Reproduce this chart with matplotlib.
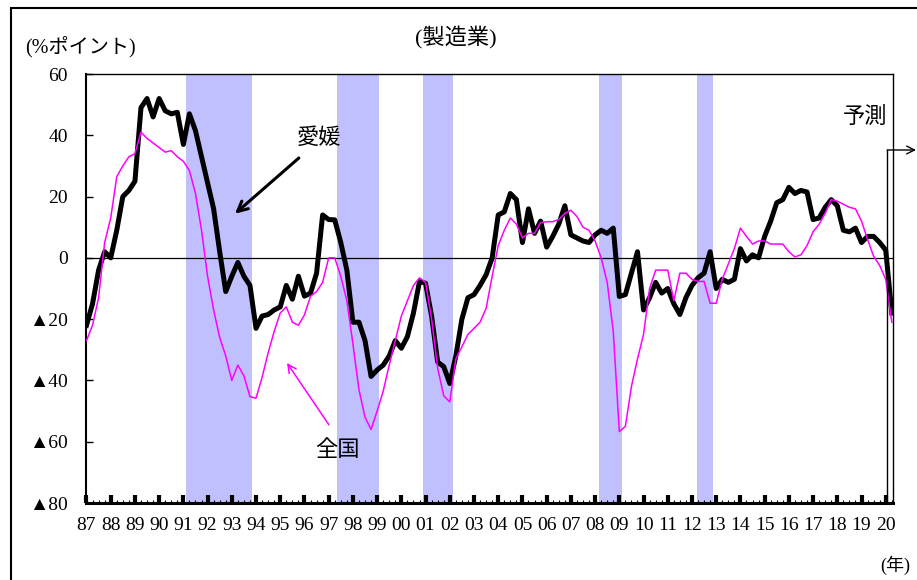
import matplotlib
matplotlib.use("Agg")
import matplotlib.pyplot as plt
from matplotlib.patches import Rectangle
from matplotlib.ticker import MultipleLocator

plt.rcParams['font.family'] = ['Liberation Serif', 'Noto Sans CJK JP', 'DejaVu Sans']

# quarterly DI, 1987Q1 .. 2020Q2 (last quarters are the forecast)
ehime = [
    -22, -15, -4, 2,        # 87
    0, 9, 20, 22,           # 88
    25, 49, 52, 46,         # 89
    52, 48, 47, 47.5,       # 90
    37, 47, 41.5, 33,       # 91
    24.5, 16, 2, -11,       # 92
    -6, -1.5, -6, -9,       # 93
    -23, -19, -18.5, -17,   # 94
    -16, -9, -13.5, -6,     # 95
    -12.5, -11.5, -5, 14,   # 96
    12.5, 12.4, 5, -4,      # 97
    -21, -21, -27, -38.7,   # 98
    -36.6, -35, -32, -27,   # 99
    -29.5, -25.7, -18, -7.7,  # 00
    -8.3, -19, -34, -35.5,  # 01
    -41, -32, -20, -13,     # 02
    -12, -9, -5.5, 0,       # 03
    14, 15, 21, 19,         # 04
    5, 16, 8, 12,           # 05
    3.5, 7, 11, 17,         # 06
    7.5, 6.5, 5.5, 5,       # 07
    7.5, 9, 8, 9.7,         # 08
    -12.6, -12, -5, 2,      # 09
    -17, -13, -8, -11.5,    # 10
    -10, -15, -18.5, -13,   # 11
    -9, -6.5, -5, 2,        # 12
    -10, -7, -8, -7,        # 13
    3, -1, 1, 0,            # 14
    7, 12, 18, 19,          # 15
    23, 21, 22, 21.5,       # 16
    12.5, 13, 16.5, 19,     # 17
    17, 9, 8.5, 9.7,        # 18
    5, 7, 7, 5,             # 19
    2.5, -18,               # 20
]
zenkoku = [
    -27, -22, -13, 5,
    13, 26.5, 30, 33,
    34, 41, 39, 37.5,
    36, 34.5, 35, 33,
    31.5, 28.5, 21, 9,
    -6, -17, -26, -32,
    -40, -35, -38.5, -45.3,
    -45.8, -39, -31, -24,
    -18, -16, -21, -22,
    -18.6, -12.5, -11, -8,
    0, 0, -6, -14,
    -28, -43, -52, -56,
    -50, -43.5, -35, -27,
    -19, -14, -9, -6.5,
    -8, -20, -36, -45,
    -47, -33, -29, -25,
    -23, -21, -16.5, -6,
    4, 9, 13, 11,
    6.5, 8, 8, 11.5,
    11.8, 11.8, 12.5, 14.5,
    15.5, 13.5, 10, 9,
    5.5, 0, -8, -24,
    -56.7, -55, -42, -33,
    -25, -10, -4, -4,
    -4, -14, -5, -5,
    -7, -7.7, -7.7, -14.8,
    -14.8, -7, -2, 3,
    9.7, 7, 4.5, 5.5,
    5.5, 4.5, 4.5, 4.5,
    2, 0.3, 1, 4,
    8.5, 11, 14.5, 19,
    18.5, 17.5, 16.5, 16,
    12, 6, 0.5, -2.5,
    -7, -21,
]
quarters = [1987 + i / 4 for i in range(len(ehime))]

years = list(range(1987, 2021))
year_labels = [f"{y % 100:02d}" for y in years]
y_ticks = [60, 40, 20, 0, -20, -40, -60, -80]
y_labels = ['60', '40', '20', '0', '▲20', '▲40', '▲60', '▲80']

# recession periods (shaded)
bands = [(1991.1, 1993.85), (1997.35, 1999.08), (2000.9, 2002.12),
         (2008.15, 2009.12), (2012.22, 2012.87)]
forecast_start = 2020.06

fig = plt.figure(figsize=(9.17, 5.8), dpi=100)
ax = fig.add_axes([86 / 917, 1 - 503 / 580, (893 - 86) / 917, (503 - 74) / 580])

for b0, b1 in bands:
    ax.axvspan(b0, b1, color='#c0c0ff', lw=0, zorder=0)
ax.axhline(0, color='black', lw=0.9, zorder=1)

ax.plot(quarters, ehime, color='black', lw=3.6, zorder=3)
ax.plot(quarters, zenkoku, color='#ff00ff', lw=1.1, zorder=4)

ax.set_xlim(1986.98, 2020.30)
ax.set_ylim(-80, 60)
ax.set_xticks(years)
ax.set_xticklabels(year_labels)
ax.xaxis.set_minor_locator(MultipleLocator(0.25))
ax.set_yticks(y_ticks)
ax.set_yticklabels(y_labels)

ax.tick_params(axis='x', which='major', direction='in', length=6, width=3,
               pad=10, labelsize=14)
ax.tick_params(axis='x', which='minor', direction='in', length=2.5, width=0.8)
ax.tick_params(axis='y', direction='in', length=5, width=1, pad=13, labelsize=14)

ax.spines['left'].set_linewidth(1.5)
ax.spines['bottom'].set_linewidth(2.2)
ax.spines['top'].set_linewidth(1.0)
ax.spines['right'].set_linewidth(1.0)

# labels
ax.annotate('', xy=(1993.13, 14.4), xytext=(1995.77, 32.6),
            arrowprops=dict(arrowstyle='->', color='black', lw=2.2,
                            mutation_scale=18, shrinkA=0, shrinkB=0))
ax.text(1996.6, 38.8, '愛媛', fontsize=16, ha='center', va='center')
ax.annotate('', xy=(1995.28, -34.3), xytext=(1997.01, -54.5),
            arrowprops=dict(arrowstyle='->', color='#ff00ff', lw=1.1,
                            mutation_scale=15, shrinkA=0, shrinkB=0))
ax.text(1997.38, -63, '全国', fontsize=16, ha='center', va='center')

# forecast marker
ax.plot([forecast_start, forecast_start], [35.2, -80], color='black', lw=1.0,
        zorder=5, clip_on=False)
ax.annotate('', xy=(916, 430), xycoords='figure pixels',
            xytext=(forecast_start, 35.2), textcoords='data',
            arrowprops=dict(arrowstyle='->', color='black', lw=1.0,
                            mutation_scale=14, shrinkA=0, shrinkB=0),
            annotation_clip=False)
ax.text(2019.14, 46, '予測', fontsize=16, ha='center', va='center')

fig.text(456 / 917, 1 - 38 / 580, '(製造業)', ha='center', va='center', fontsize=16)
fig.text(25 / 917, 1 - 47 / 580, '(%ポイント)', ha='left', va='center', fontsize=14.5)
fig.text(880 / 917, 1 - 565 / 580, '(年)', ha='left', va='center', fontsize=13)

# outer frame (only left and top edges fall inside the picture)
fig.add_artist(Rectangle((11 / 917, -0.05), 1.1, 572 / 580 + 0.05,
                         transform=fig.transFigure, fill=False,
                         lw=1.5, edgecolor='black', clip_on=False))

fig.savefig('out.png', dpi=100)
